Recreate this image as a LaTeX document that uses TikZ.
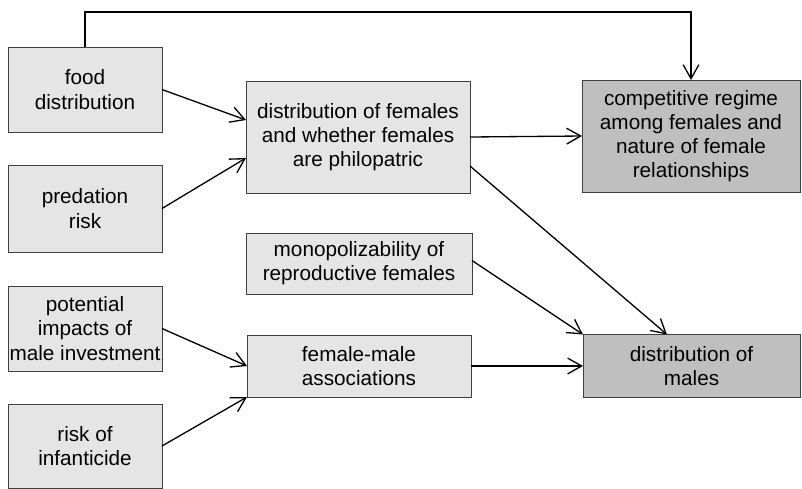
\documentclass[tikz,border=0pt]{standalone}
\usepackage{fontspec}
\setmainfont{Liberation Sans}
\usepackage{tikz}
\usetikzlibrary{arrows.meta}

\begin{document}
\begin{tikzpicture}[x=0.02cm, y=-0.02cm,
  box/.style={draw=black!75, line width=0.5pt, fill=black!10, inner sep=0pt, outer sep=0pt, align=center, font=\fontsize{11.8}{13.8}\selectfont},
  darkbox/.style={box, fill=black!25},
  arr/.style={line width=0.75pt, -{Straight Barb[length=8pt, width=9pt, line width=0.75pt]}}]
\useasboundingbox (0,0) rectangle (802,488);
\node[box, minimum width=3.08cm, minimum height=1.70cm] (food) at (85,89.5) {food\\distribution};
\node[box, minimum width=3.08cm, minimum height=1.74cm] (pred) at (85,208.5) {predation\\risk};
\node[box, minimum width=3.08cm, minimum height=1.70cm] (invest) at (85,328.5) {potential\\impacts of\\male investment};
\node[box, minimum width=3.08cm, minimum height=1.68cm] (infant) at (85,446) {risk of\\infanticide};
\node[box, minimum width=4.48cm, minimum height=2.24cm] (females) at (358,137) {distribution of females\\and whether females\\are philopatric};
\node[box, minimum width=4.52cm, minimum height=1.22cm] (monop) at (359,263.5) {monopolizability of\\reproductive females};
\node[box, minimum width=4.48cm, minimum height=1.24cm] (assoc) at (359,366) {female-male\\associations};
\node[darkbox, minimum width=4.36cm, minimum height=2.24cm] (regime) at (691,136) {competitive regime\\among females and\\nature of female\\relationships};
\node[darkbox, minimum width=4.34cm, minimum height=1.26cm] (males) at (691.5,366) {distribution of\\males};
\draw[arr] (food.north) -- ++(0,-35) -| (regime.north);
\draw[arr] (food.east) -- ([yshift=0.34cm]females.west);
\draw[arr] (pred.east) -- ([yshift=-0.42cm]females.west);
\draw[arr] (invest.east) -- (assoc.west);
\draw[arr] (infant.east) -- (assoc.south west);
\draw[arr] (females.east) -- (regime.west);
\draw[arr] ([yshift=-0.58cm]females.east) -- ([xshift=-0.49cm]males.north);
\draw[arr] ([yshift=0.06cm]monop.east) -- (males.north west);
\draw[arr] (assoc.east) -- (males.west);
\end{tikzpicture}
\end{document}
